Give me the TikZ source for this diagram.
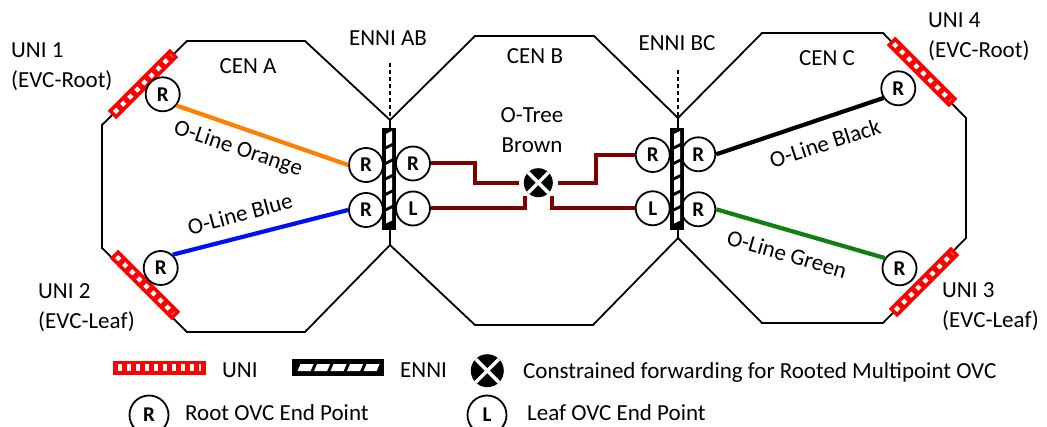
\documentclass[tikz,border=0pt]{standalone}
\usepackage{fontspec}
\setmainfont{Carlito}
\usetikzlibrary{calc}
\definecolor{unired}{RGB}{255,0,0}
\definecolor{olorange}{RGB}{255,128,0}
\definecolor{olblue}{RGB}{0,16,240}
\definecolor{olgreen}{RGB}{16,128,16}
\definecolor{treebrown}{RGB}{128,0,0}
\begin{document}
\begin{tikzpicture}[
  x=1pt,
  y=-1pt,
  font=\fontsize{23}{30}\selectfont,
  cen/.style={black, line width=1.8, line join=miter},
  refline/.style={black, line width=1.4, dash pattern=on 4 off 3},
  lbl/.style={inner sep=0, align=center},
  endpt/.style={circle, draw=black, line width=1.8, fill=white, minimum size=34, inner sep=0, font=\fontsize{21}{21}\selectfont\bfseries},
  unibox/.style={rectangle, fill=unired, minimum width=88, minimum height=12, inner sep=0},
  unidash/.style={white, line width=4.5, dash pattern=on 4.5 off 5.5, shorten <=4, shorten >=4},
  ennibox/.style={rectangle, draw=black, fill=black, line width=2, minimum width=12, minimum height=100, inner sep=0},
  oline/.style={line width=4.2},
  otree/.style={treebrown, line width=4},
  fwd/.style={circle, fill=black, minimum size=29, inner sep=0, outer sep=5,
    path picture={\draw[white, line width=3.5]
      (path picture bounding box.north west) -- (path picture bounding box.south east)
      (path picture bounding box.north east) -- (path picture bounding box.south west);}},
]
  \useasboundingbox (0,0) rectangle (1047,427);

  % networks
  \draw[cen] (102,125) -- (187,41) -- (305,41) -- (390,120) -- (390,245)
    -- (305,332) -- (187,332) -- (102,248) -- cycle;
  \draw[cen] (390,120) -- (475,36) -- (594,36) -- (678,118) -- (678,238)
    -- (593,325) -- (475,325) -- (390,245);
  \draw[cen] (678,118) -- (762,33) -- (883,33) -- (966,118) -- (966,238)
    -- (883,323) -- (762,323) -- (678,238);
  \node[lbl] (cenA) at (248,66) {CEN A};
  \node[lbl] (cenB) at (535,56) {CEN B};
  \node[lbl] (cenC) at (827,58) {CEN C};

  % ENNI labels
  \node[lbl] (lblAB) at (388,38) {ENNI AB};
  \node[lbl] (lblBC) at (677,43) {ENNI BC};
  \coordinate (dAB) at (390,63);
  \coordinate (vAB) at (390,120);
  \coordinate (dBC) at (678,70);
  \coordinate (vBC) at (678,118);
  \draw[refline] (dAB) -- (vAB);
  \draw[refline] (dBC) -- (vBC);

  % UNIs
  \node[unibox, rotate=45] (uni1) at (143,84) {};
  \node[unibox, rotate=-45] (uni2) at (145,285) {};
  \node[unibox, rotate=45] (uni3) at (924,282) {};
  \node[unibox, rotate=-45] (uni4) at (922,72) {};
  \foreach \u in {uni1,uni2,uni3,uni4}
    \draw[unidash] (\u.west) -- (\u.east);
  \node[lbl, align=left, anchor=west] (uni1Lbl) at (11,67) {UNI 1\\(EVC-Root)};
  \node[lbl, align=left, anchor=west] (uni2Lbl) at (38,308) {UNI 2\\(EVC-Leaf)};
  \node[lbl, align=left, anchor=west] (uni3Lbl) at (942,307) {UNI 3\\(EVC-Leaf)};
  \node[lbl, align=left, anchor=west] (uni4Lbl) at (928,37) {UNI 4\\(EVC-Root)};

  % end points
  \node[endpt] (epU1) at (162.7,94.3) {R};
  \node[endpt] (epU2) at (160.7,268) {R};
  \node[endpt] (epU3) at (899.5,268.3) {R};
  \node[endpt] (epU4) at (898.3,88.3) {R};
  \node[endpt] (epA1) at (366,165) {R};
  \node[endpt] (epA2) at (366,210) {R};
  \node[endpt] (epB1) at (413,163.5) {R};
  \node[endpt] (epB2) at (413,208.5) {L};
  \node[endpt] (epB3) at (652.7,155) {R};
  \node[endpt] (epB4) at (652.7,208.3) {L};
  \node[endpt] (epC1) at (698.3,154.3) {R};
  \node[endpt] (epC2) at (698.3,209.3) {R};

  % ENNI AB and ENNI BC
  \node[ennibox] (boxAB) at (389,179) {};
  \node[ennibox] (boxBC) at (677,179) {};
  \foreach \b in {boxAB,boxBC} {
    \begin{scope}[shift={(\b.center)}]
      \foreach \k in {0,...,5}
        \fill[white] (-3,{-45+15.5*\k}) -- (3,{-48+15.5*\k}) -- (3,{-36+15.5*\k})
          -- (-3,{-33+15.5*\k}) -- cycle;
    \end{scope}
  }

  % O-Lines
  \draw[oline, olorange] (epA1.west) -- (epU1.-39);
  \draw[oline, olblue] (epA2.west) -- (epU2.48);
  \draw[oline, black] (epC1.east) -- (epU4.213);
  \draw[oline, olgreen] (epC2.east) -- (epU3.145);
  \node[lbl, rotate=-18.5] (olOrange) at (238,149) {O-Line Orange};
  \node[lbl, rotate=15] (olBlue) at (240,214) {O-Line Blue};
  \node[lbl, rotate=17.8] (olBlack) at (825,143) {O-Line Black};
  \node[lbl, rotate=-16.2] (olGreen) at (787,254) {O-Line Green};

  % O-Tree
  \node[fwd] (cross) at (538.3,182.7) {};
  \draw[otree] (epB1.east) -| ($(epB1.east)!0.5!(cross.west)$) |- (cross.west);
  \draw[otree] (epB2.east) -| (cross.south west);
  \draw[otree] (epB3.west) -| ($(epB3.west)!0.5!(cross.east)$) |- (cross.east);
  \draw[otree] (epB4.west) -| (cross.south east);
  \node[lbl] (treeLbl) at (532,130) {O-Tree\\Brown};

  % legend
  \node[unibox, minimum width=93, minimum height=14] (legUni) at (159.5,368) {};
  \draw[unidash, line width=7, dash pattern=on 4 off 5, shorten <=5, shorten >=5]
    (legUni.west) -- (legUni.east);
  \node[lbl, anchor=west] (legUniTxt) at (222,370) {UNI};
  \node[ennibox, minimum width=90, minimum height=15] (legEnni) at (337.5,367.7) {};
  \begin{scope}[shift={(legEnni.center)}]
    \foreach \k in {0,...,4}
      \fill[white] ({-40+16.5*\k},3.5) -- ({-37+16.5*\k},-3.5) -- ({-24+16.5*\k},-3.5)
        -- ({-27+16.5*\k},3.5) -- cycle;
  \end{scope}
  \node[lbl, anchor=west] (legEnniTxt) at (400,370) {ENNI};
  \node[fwd, minimum size=33] (legFwd) at (487.3,370.7) {};
  \node[lbl, anchor=west] (legFwdTxt) at (523,372) {Constrained forwarding for Rooted Multipoint OVC};
  \node[endpt, minimum size=39] (legR) at (149,415) {R};
  \node[lbl, anchor=west] (legRTxt) at (185,413) {Root OVC End Point};
  \node[endpt, minimum size=39] (legL) at (487,415) {L};
  \node[lbl, anchor=west] (legLTxt) at (527,413) {Leaf OVC End Point};
\end{tikzpicture}
\end{document}
